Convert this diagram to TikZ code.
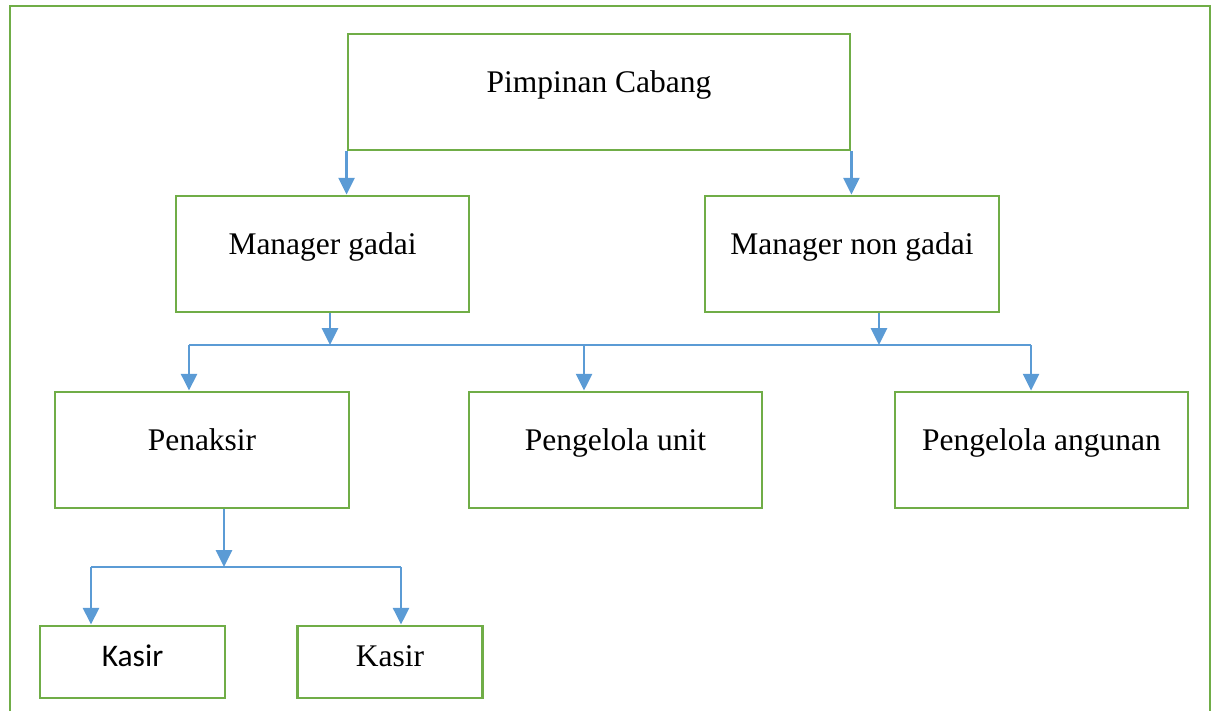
\documentclass[tikz,border=0pt]{standalone}
\usepackage{fontspec}
\setmainfont{Liberation Serif}
\newfontfamily\calibrifont{Carlito}
\usepackage{tikz}
\usetikzlibrary{positioning, arrows.meta}
\definecolor{boxgreen}{HTML}{70AD47}
\definecolor{linkblue}{HTML}{5B9BD5}

\tikzset{
  unitbox/.style={draw=boxgreen, line width=2pt, fill=white, minimum width=7.35cm,
    minimum height=2.9cm, text height=16pt, text depth=16pt, inner sep=0pt,
    font=\fontsize{22.4}{27}\selectfont},
  kasirbox/.style={unitbox, minimum width=4.625cm, minimum height=1.8cm,
    text height=18pt, text depth=11pt},
  link/.style={draw=linkblue, line width=1.8pt, -{Triangle[length=0.42cm, width=0.4cm]}},
  bar/.style={draw=linkblue, line width=1pt}
}

\begin{document}
\begin{tikzpicture}
\useasboundingbox (0,0) rectangle (30.3,-17.775);
% outer frame
\draw[boxgreen, line width=2pt] (0.25,-17.775) -- (0.25,-0.15) -- (30.25,-0.15) -- (30.25,-17.775);

% Pimpinan
\node[unitbox, minimum width=12.55cm] (pc) at (14.975,-2.3) {Pimpinan Cabang};

% Managers
\node[unitbox, minimum width=7.325cm] (mg) at (8.0625,-6.35) {Manager gadai};
\node[unitbox] (mng) at (21.3,-6.35) {Manager non gadai};

% Staff
\node[unitbox] (pen) at (5.05,-11.25) {Penaksir};
\node[unitbox, minimum width=7.325cm] (pu) at (15.3875,-11.25) {Pengelola unit};
\node[unitbox, minimum width=7.325cm] (pa) at (26.0375,-11.25) {Pengelola angunan};

% Kasir
\node[kasirbox, font=\calibrifont\fontsize{22.4}{27}\selectfont] (k1) at (3.3125,-16.55) {Kasir};
\node[kasirbox] (k2) at (9.75,-16.55) {Kasir};

% Pimpinan to managers
\draw[link] (pc.south west) -- (pc.south west |- mg.north);
\draw[link] (pc.south east) -- (pc.south east |- mng.north);

% first bar
\coordinate (b1l) at (4.725,-8.625);
\coordinate (b1m) at (14.6,-8.625);
\coordinate (b1r) at (25.775,-8.625);
\draw[bar] (b1l) -- (b1r);
\draw[link] ([xshift=0.1875cm]mg.south) -- ([xshift=0.1875cm]mg.south |- b1l);
\draw[link] ([xshift=0.675cm]mng.south) -- ([xshift=0.675cm]mng.south |- b1r);
\draw[link] (b1l) -- (b1l |- pen.north);
\draw[link] (b1m) -- (b1m |- pu.north);
\draw[link] (b1r) -- (b1r |- pa.north);

% second bar
\coordinate (b2l) at (2.275,-14.175);
\coordinate (b2r) at (10.025,-14.175);
\draw[bar] (b2l) -- (b2r);
\draw[link] ([xshift=0.55cm]pen.south) -- ([xshift=0.55cm]pen.south |- b2l);
\draw[link] (b2l) -- (b2l |- k1.north);
\draw[link] (b2r) -- (b2r |- k2.north);
\end{tikzpicture}
\end{document}
